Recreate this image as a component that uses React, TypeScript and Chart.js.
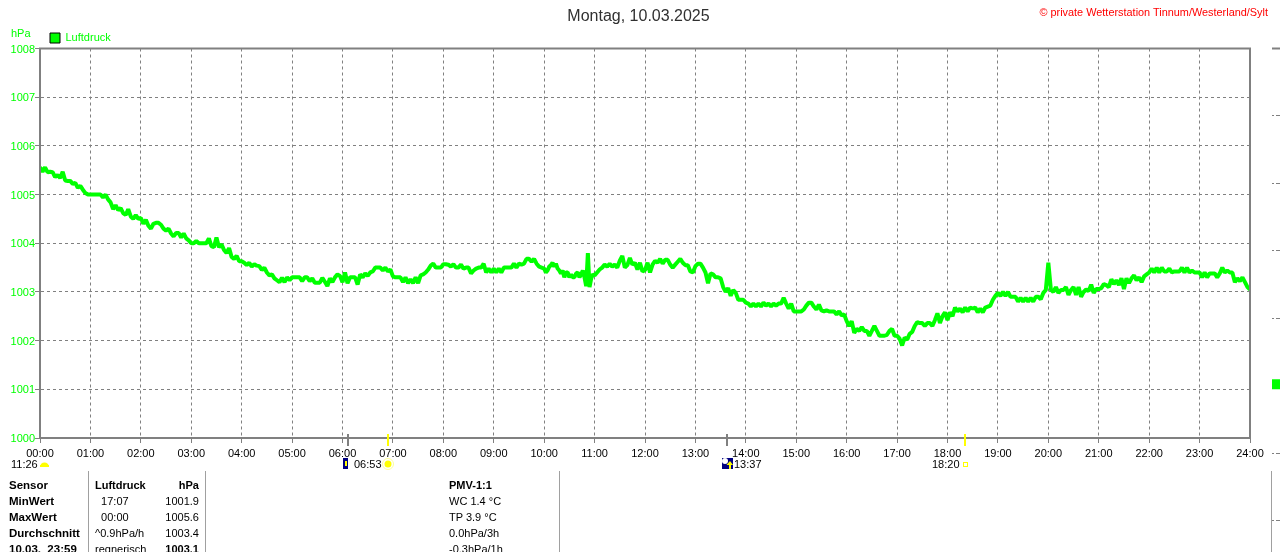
import React, { useEffect, useRef } from "react";
import { Chart, registerables } from "chart.js";
Chart.register(...registerables);

const title = "Montag, 10.03.2025";
const copyright = "© private Wetterstation Tinnum/Westerland/Sylt";
const seriesName = "Luftdruck";
const unit = "hPa";
const yMin = 1000;
const yMax = 1008;

const hour00 = [5.56,5.47,5.56,5.46,5.47,5.46,5.36,5.40,5.34,5.47,5.29,5.28,5.28,5.22,5.24,5.14,5.18,5.10,5.03,5.0];
const hour01 = [5.0,5.0,5.0,5.0,5.0,4.94,5.0,4.90,4.84,4.70,4.78,4.68,4.72,4.62,4.58,4.70,4.55,4.50,4.58,4.50];
const hour02 = [4.52,4.40,4.48,4.36,4.30,4.40,4.42,4.42,4.38,4.30,4.26,4.30,4.20,4.14,4.21,4.21,4.12,4.20,4.10,4.06];
const hour03 = [4.00,4.00,4.05,4.00,4.00,4.00,4.00,4.10,3.94,3.92,4.12,3.92,3.98,3.86,3.80,3.90,3.72,3.68,3.74,3.63];
const hour04 = [3.63,3.60,3.55,3.60,3.52,3.57,3.54,3.53,3.45,3.50,3.40,3.34,3.36,3.28,3.24,3.20,3.29,3.20,3.30,3.24];
const hour05 = [3.30,3.30,3.30,3.30,3.22,3.30,3.30,3.22,3.28,3.19,3.19,3.19,3.29,3.21,3.12,3.28,3.20,3.30,3.36,3.33];
const hour06 = [3.20,3.40,3.18,3.30,3.30,3.30,3.15,3.36,3.30,3.38,3.33,3.40,3.42,3.50,3.50,3.50,3.44,3.50,3.42,3.46];
const hour07 = [3.32,3.30,3.30,3.30,3.20,3.30,3.18,3.26,3.18,3.30,3.18,3.34,3.36,3.40,3.46,3.54,3.58,3.50,3.50,3.50];
const hour08 = [3.57,3.57,3.56,3.52,3.57,3.50,3.50,3.56,3.48,3.50,3.50,3.38,3.44,3.48,3.50,3.50,3.58,3.40,3.48,3.40];
const hour09 = [3.48,3.40,3.48,3.40,3.50,3.50,3.50,3.50,3.58,3.50,3.58,3.56,3.58,3.68,3.68,3.62,3.68,3.58,3.52,3.50];
const hour10 = [3.48,3.40,3.44,3.52,3.55,3.60,3.52,3.58,3.48,3.44,3.38,3.44,3.30,3.40,3.40,3.30,3.36,3.30,3.30,3.38,3.40,3.30,3.36,3.44,3.30,3.12,3.80,3.10,3.28,3.36];
const hour11 = [3.34,3.40,3.46,3.50,3.56,3.52,3.58,3.52,3.56,3.50,3.64,3.74,3.50,3.55,3.70,3.56,3.60,3.46,3.60,3.42];
const hour12 = [3.45,3.60,3.40,3.56,3.64,3.60,3.68,3.58,3.66,3.66,3.56,3.50,3.56,3.62,3.68,3.60,3.55,3.55,3.42,3.40];
const hour13 = [3.53,3.58,3.58,3.50,3.40,3.18,3.38,3.36,3.30,3.30,3.28,3.10,3.00,3.08,2.92,3.04,2.98,2.84,2.84,2.84];
const hour14 = [2.78,2.76,2.70,2.76,2.70,2.76,2.70,2.78,2.72,2.76,2.70,2.76,2.72,2.76,2.76,2.88,2.76,2.66,2.76,2.60];
const hour15 = [2.60,2.60,2.60,2.64,2.72,2.78,2.78,2.70,2.64,2.74,2.62,2.60,2.62,2.60,2.60,2.60,2.54,2.60,2.52,2.54];
const hour16 = [2.40,2.30,2.40,2.16,2.24,2.20,2.28,2.20,2.20,2.10,2.20,2.30,2.20,2.10,2.10,2.10,2.12,2.20,2.24,2.10];
const hour17 = [2.10,2.04,1.90,2.06,2.02,2.14,2.18,2.30,2.38,2.36,2.36,2.30,2.36,2.36,2.30,2.42,2.56,2.36,2.50,2.58];
const hour18 = [2.42,2.58,2.50,2.68,2.60,2.66,2.58,2.68,2.60,2.68,2.66,2.68,2.58,2.66,2.58,2.68,2.70,2.72,2.84,2.92];
const hour19 = [2.98,2.92,3.00,2.92,3.00,2.90,2.90,2.90,2.80,2.88,2.80,2.88,2.80,2.88,2.80,2.90,2.90,2.85,2.98,3.04];
const hour20 = [3.60,3.05,3.00,3.10,2.98,3.04,3.04,3.10,2.94,3.04,3.10,2.94,3.10,2.90,3.00,3.05,3.02,3.15,2.98,3.06];
const hour21 = [3.06,3.08,3.16,3.14,3.10,3.26,3.16,3.24,3.14,3.28,3.06,3.28,3.18,3.28,3.34,3.24,3.30,3.20,3.32,3.36];
const hour22 = [3.40,3.48,3.40,3.50,3.40,3.50,3.42,3.42,3.48,3.40,3.42,3.42,3.42,3.50,3.40,3.50,3.40,3.44,3.40,3.40];
const hour23 = [3.40,3.30,3.40,3.30,3.38,3.38,3.38,3.30,3.38,3.50,3.40,3.44,3.40,3.40,3.20,3.28,3.22,3.30,3.20,3.10];
const lastValue = 3.05;
const hours = [hour00,hour01,hour02,hour03,hour04,hour05,hour06,hour07,hour08,hour09,hour10,hour11,hour12,hour13,hour14,hour15,hour16,hour17,hour18,hour19,hour20,hour21,hour22,hour23];

const greyTicks = [367, 817];
const yellowTicks = [413, 1100];

const tableRows = [
  ["Sensor", "Luftdruck", "hPa", "PMV-1:1"],
  ["MinWert", "  17:07", "1001.9", "WC 1.4 °C"],
  ["MaxWert", "  00:00", "1005.6", "TP 3.9 °C"],
  ["Durchschnitt", "^0.9hPa/h", "1003.4", "0.0hPa/3h"],
  ["10.03.  23:59", "regnerisch", "1003.1", "-0.3hPa/1h"],
];
const separators = [88, 205, 559, 1271];
const sunLabels: [string, number][] = [["11:26", 11], ["06:53", 354], ["13:37", 734], ["18:20", 932]];

const GREEN = "#00ff00";
const GREY = "#808080";
const FONT = "'Liberation Sans', Arial, sans-serif";

function pad(n: number) { return String(n).padStart(2, "0"); }

export default function App() {
  const ref = useRef<HTMLCanvasElement>(null);
  const sideRef = useRef<HTMLCanvasElement>(null);
  useEffect(() => {
    const pts: { x: number; y: number }[] = [];
    hours.forEach((vals, h) => vals.forEach((v, i) => pts.push({ x: h * 60 + (i * 60) / vals.length, y: yMin + v })));
    pts.push({ x: 1440, y: yMin + lastValue });

    const decor = {
      id: "decor",
      afterLayout(c: any) {
        c.legend.left += 5.5;
        c.legend.top += 5;
        c.titleBlock.left += 27;
      },
      afterDraw(c: any) {
        const { ctx, chartArea: a, scales } = c;
        ctx.save();
        ctx.strokeStyle = GREY; ctx.lineWidth = 2; ctx.setLineDash([]);
        ctx.strokeRect(a.left, a.top, a.right - a.left, a.bottom - a.top);
        const sx = scales.x;
        ctx.fillStyle = GREY;
        greyTicks.forEach((m) => ctx.fillRect(Math.round(sx.getPixelForValue(m)) - 1, 434, 2, 12));
        ctx.fillStyle = "#ffff00";
        yellowTicks.forEach((m) => ctx.fillRect(Math.round(sx.getPixelForValue(m)), 434, 2, 12));
        // dome
        ctx.beginPath(); ctx.arc(44.5, 467, 4.5, Math.PI, 0); ctx.fill();
        ctx.fillRect(40, 465, 9, 2);
        // moon icons
        ctx.fillStyle = "#000080"; ctx.fillRect(343, 458, 5, 11); ctx.fillRect(722, 458, 11, 11);
        ctx.fillStyle = "#ffff00";
        ctx.fillRect(345, 461, 2, 5);
        ctx.fillRect(729, 464, 2, 5);
        ctx.beginPath(); ctx.moveTo(726.5, 465); ctx.lineTo(730, 461); ctx.lineTo(733, 465); ctx.fill();
        ctx.fillStyle = "#ffffff"; ctx.beginPath(); ctx.arc(725, 461, 3, 0, Math.PI * 2); ctx.fill();
        // sun
        ctx.fillStyle = "#ffff00"; ctx.beginPath(); ctx.arc(388, 464, 3.5, 0, Math.PI * 2); ctx.fill();
        ctx.strokeStyle = "#ffff99"; ctx.lineWidth = 1; ctx.beginPath(); ctx.arc(388, 464, 5.5, 0, Math.PI * 2); ctx.stroke();
        ctx.strokeStyle = "#ffff00"; ctx.strokeRect(963.5, 462.5, 4, 4);
        ctx.restore();
      },
    };

    const chart = new Chart(ref.current!, {
      type: "line",
      data: {
        datasets: [{
          label: seriesName, data: pts, borderColor: GREEN, backgroundColor: GREEN,
          borderWidth: 4, pointRadius: 0, tension: 0, borderJoinStyle: "bevel", parsing: false,
        }],
      },
      plugins: [decor],
      options: {
        animation: false, responsive: false, devicePixelRatio: 1,
        layout: { padding: { left: 0, top: 0, right: 30, bottom: 0 } },
        plugins: {
          tooltip: { enabled: false },
          title: { display: true, text: title, color: "#303030", font: { family: FONT, size: 16, weight: "normal" }, padding: { top: 7.4, bottom: -3.6 } },
          legend: {
            display: true, position: "top", align: "start", fullSize: false,
            labels: {
              boxWidth: 10, boxHeight: 10, padding: 4.5, color: GREEN,
              font: { family: FONT, size: 11, lineHeight: 1 },
              generateLabels: (c: any) => [{ text: c.data.datasets[0].label, fillStyle: GREEN, strokeStyle: "#000", lineWidth: 1, fontColor: GREEN, datasetIndex: 0 }],
            },
          },
        },
        scales: {
          x: {
            type: "linear", min: 0, max: 1440,
            afterFit: (s: any) => { s.height = 114; },
            afterBuildTicks: (s: any) => { const t = []; for (let m = 0; m <= 1440; m += 60) t.push({ value: m }); s.ticks = t; },
            ticks: {
              color: "#000", maxRotation: 0, autoSkip: false, padding: 4,
              font: { family: FONT, size: 11 },
              callback: (v: any) => `${pad(Math.floor(v / 60))}:00`,
            },
            grid: { color: GREY, lineWidth: 1, tickLength: 5, tickColor: GREY, tickBorderDash: [] },
            border: { color: GREY, width: 2, dash: [3, 3] },
          },
          y: {
            type: "linear", min: yMin, max: yMax,
            afterFit: (s: any) => { s.width = 40; },
            ticks: { color: GREEN, stepSize: 1, padding: 0, labelOffset: 1, font: { family: FONT, size: 11 }, callback: (v: any) => String(v) },
            grid: { color: GREY, lineWidth: 1, tickLength: 5, tickColor: GREY, tickBorderDash: [] },
            border: { color: GREY, width: 2, dash: [3, 3] },
          },
        },
      },
    } as any);

    const side = new Chart(sideRef.current!, {
      type: "line",
      data: {
        datasets: [
          { data: [{ x: 0, y: 7 }, { x: 1, y: 7 }], borderColor: GREY, borderWidth: 2, pointRadius: 0, parsing: false, clip: false },
          { data: [{ x: 0, y: 2.02 }, { x: 1, y: 2.02 }], borderColor: GREEN, borderWidth: 10, pointRadius: 0, parsing: false },
        ],
      },
      options: {
        animation: false, responsive: false, devicePixelRatio: 1,
        layout: { padding: { top: 48.5, bottom: 31.5, left: 0, right: 0 } },
        plugins: { legend: { display: false }, tooltip: { enabled: false } },
        scales: {
          x: { type: "linear", min: 0, max: 1, display: false },
          y: {
            type: "linear", min: 0, max: 7, position: "left",
            ticks: { display: false, stepSize: 1 },
            afterFit: (s: any) => { s.width = 0; },
            grid: { color: GREY, drawTicks: false },
            border: { display: false, dash: [2, 2, 4, 0] },
          },
        },
      },
    } as any);
    return () => { chart.destroy(); side.destroy(); };
  }, []);

  const abs = (s: React.CSSProperties): React.CSSProperties => ({ position: "absolute", whiteSpace: "pre", fontFamily: FONT, fontSize: 11, lineHeight: "14px", ...s });
  const rowY = [478, 494, 510, 526, 542];
  return (
    <div style={{ position: "absolute", left: 0, top: 0, width: 1280, height: 552, overflow: "hidden", background: "#fff" }}>
      <canvas ref={ref} width={1280} height={552} style={{ position: "absolute", left: 0, top: 0 }} />
      <canvas ref={sideRef} width={8} height={552} style={{ position: "absolute", left: 1272, top: 0 }} />
      <div style={abs({ right: 12, top: 5, color: "#ff0000", fontSize: 10.9 })}>{copyright}</div>
      <div style={abs({ left: 11, top: 26, color: GREEN, fontSize: 11 })}>{unit}</div>
      {sunLabels.map(([t, x]) => <div key={t} style={abs({ left: x, top: 457, color: "#000" })}>{t}</div>)}
      {separators.map((x) => <div key={x} style={{ position: "absolute", left: x, top: 471, width: 1, height: 81, background: "#a0a0a0" }} />)}
      {tableRows.map((r, i) => (
        <React.Fragment key={i}>
          <div style={abs({ left: 9, top: rowY[i], fontWeight: "bold", color: "#000", fontSize: 11.5 })}>{r[0]}</div>
          <div style={abs({ left: 95, top: rowY[i], fontWeight: i === 0 ? "bold" : "normal", color: "#000" })}>{r[1]}</div>
          <div style={abs({ right: 1280 - 199, top: rowY[i], fontWeight: i === 0 || i === 4 ? "bold" : "normal", color: "#000" })}>{r[2]}</div>
          <div style={abs({ left: 449, top: rowY[i], fontWeight: i === 0 ? "bold" : "normal", color: "#000" })}>{r[3]}</div>
        </React.Fragment>
      ))}
    </div>
  );
}
